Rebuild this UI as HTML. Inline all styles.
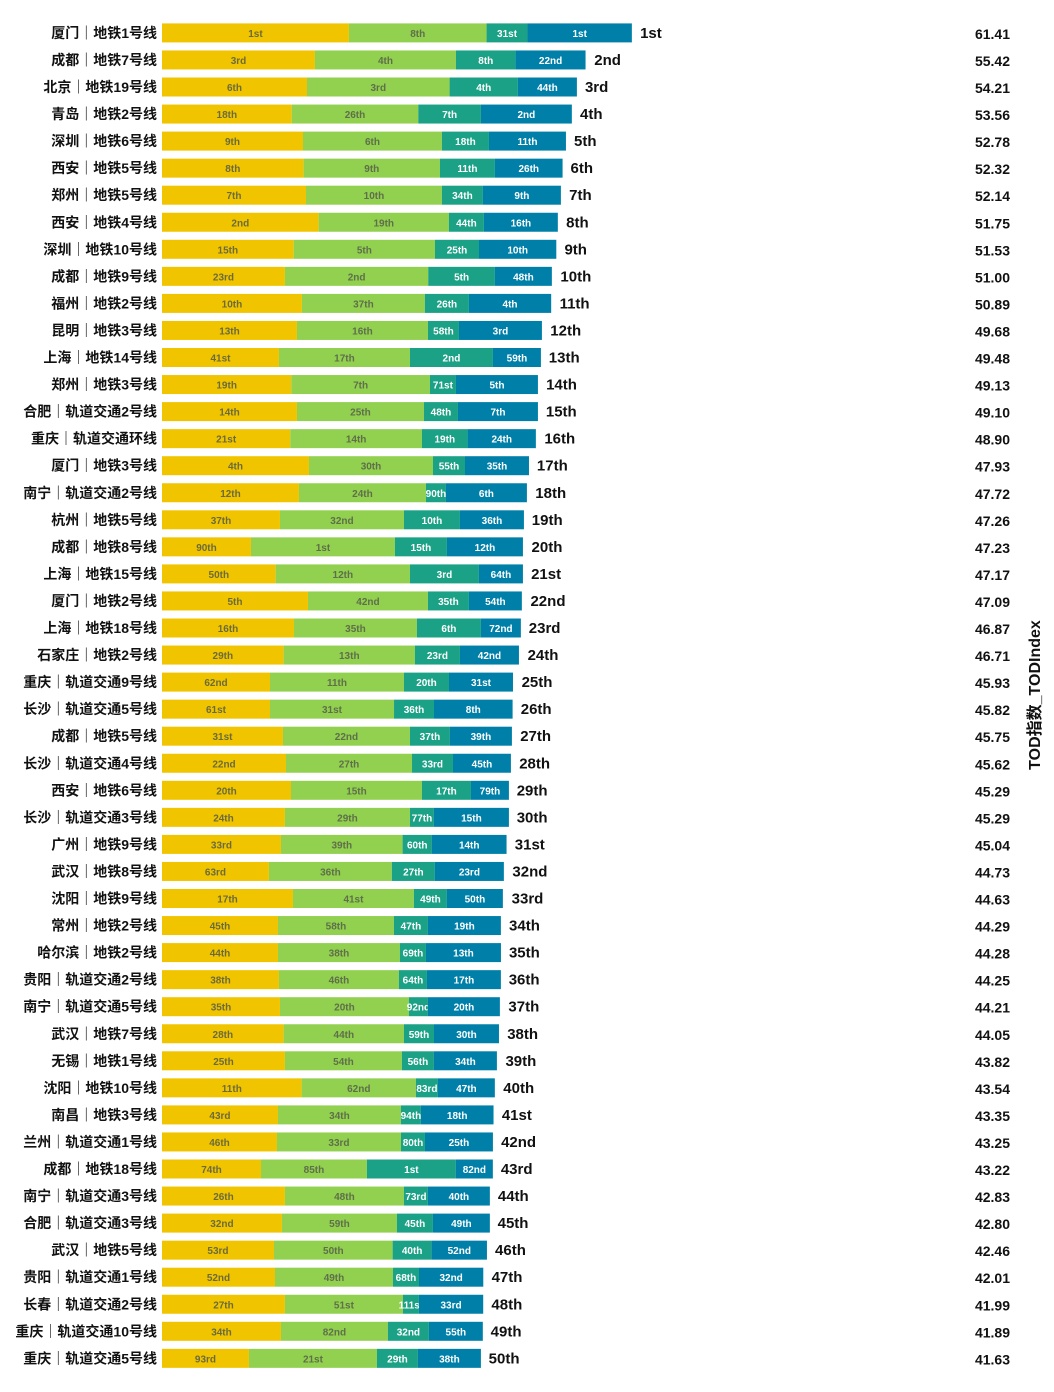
<!DOCTYPE html>
<html><head><meta charset="utf-8">
<style>
html,body{margin:0;padding:0;background:#fff;}
svg{display:block;font-family:"Liberation Sans","Noto Sans CJK SC",sans-serif;}
</style></head>
<body>
<svg id="chart" width="1054" height="1392" viewBox="0 0 1054 1392" xmlns="http://www.w3.org/2000/svg">
<text x="0" y="0" transform="translate(1040,695) rotate(-90)" text-anchor="middle" font-size="16" font-weight="bold" fill="#111">TOD指数_TODIndex</text>
</svg>
<script>
const lines = ["厦门｜地铁1号线","成都｜地铁7号线","北京｜地铁19号线","青岛｜地铁2号线","深圳｜地铁6号线","西安｜地铁5号线","郑州｜地铁5号线","西安｜地铁4号线","深圳｜地铁10号线","成都｜地铁9号线","福州｜地铁2号线","昆明｜地铁3号线","上海｜地铁14号线","郑州｜地铁3号线","合肥｜轨道交通2号线","重庆｜轨道交通环线","厦门｜地铁3号线","南宁｜轨道交通2号线","杭州｜地铁5号线","成都｜地铁8号线","上海｜地铁15号线","厦门｜地铁2号线","上海｜地铁18号线","石家庄｜地铁2号线","重庆｜轨道交通9号线","长沙｜轨道交通5号线","成都｜地铁5号线","长沙｜轨道交通4号线","西安｜地铁6号线","长沙｜轨道交通3号线","广州｜地铁9号线","武汉｜地铁8号线","沈阳｜地铁9号线","常州｜地铁2号线","哈尔滨｜地铁2号线","贵阳｜轨道交通2号线","南宁｜轨道交通5号线","武汉｜地铁7号线","无锡｜地铁1号线","沈阳｜地铁10号线","南昌｜地铁3号线","兰州｜轨道交通1号线","成都｜地铁18号线","南宁｜轨道交通3号线","合肥｜轨道交通3号线","武汉｜地铁5号线","贵阳｜轨道交通1号线","长春｜轨道交通2号线","重庆｜轨道交通10号线","重庆｜轨道交通5号线"];
const totals = [61.41,55.42,54.21,53.56,52.78,52.32,52.14,51.75,51.53,51.00,50.89,49.68,49.48,49.13,49.10,48.90,47.93,47.72,47.26,47.23,47.17,47.09,46.87,46.71,45.93,45.82,45.75,45.62,45.29,45.29,45.04,44.73,44.63,44.29,44.28,44.25,44.21,44.05,43.82,43.54,43.35,43.25,43.22,42.83,42.80,42.46,42.01,41.99,41.89,41.63];
const seg1 = [24.42,19.98,18.94,16.94,18.42,18.50,18.81,20.46,17.20,16.06,18.28,17.63,15.28,16.89,17.63,16.76,19.20,17.89,15.41,11.62,14.85,19.07,17.24,15.89,14.11,14.11,15.80,16.20,16.85,16.06,15.54,13.97,17.11,15.15,15.15,15.28,15.41,15.89,16.06,18.24,15.15,15.02,12.93,16.06,15.67,14.63,14.76,16.06,15.54,11.36];
const seg2 = [17.98,18.42,18.63,16.54,18.15,17.81,17.76,17.02,18.46,18.72,16.06,17.11,17.11,18.11,16.59,17.20,16.20,16.59,16.20,18.81,17.54,15.67,16.06,17.15,17.50,16.20,16.59,16.46,17.11,16.33,15.89,16.06,15.80,15.15,15.93,15.67,16.85,15.72,15.28,14.93,16.06,16.20,13.84,15.54,15.02,15.50,15.41,15.41,13.97,16.72];
const seg3 = [5.35,7.79,8.92,8.18,6.14,7.18,5.35,4.57,5.75,8.71,5.75,4.05,10.84,3.40,4.44,5.96,4.18,2.61,7.31,6.79,9.01,5.35,8.36,5.88,5.88,5.22,5.22,5.35,6.40,3.13,3.83,5.62,4.31,4.44,3.40,3.66,2.48,3.92,4.18,2.87,2.61,3.13,11.62,3.13,4.70,5.09,3.40,2.09,5.35,5.35];
const seg4 = [13.63,9.14,7.71,11.88,10.06,8.84,10.19,9.66,10.10,7.44,10.75,10.84,6.27,10.71,10.45,8.92,8.36,10.58,8.36,9.93,5.75,6.92,5.22,7.71,8.36,10.27,8.10,7.57,4.96,9.80,9.75,9.01,7.31,9.53,9.80,9.66,9.40,8.49,8.23,7.44,9.49,8.88,4.83,8.10,7.44,7.23,8.40,8.40,7.05,8.23];
const rank1 = ["1st","3rd","6th","18th","9th","8th","7th","2nd","15th","23rd","10th","13th","41st","19th","14th","21st","4th","12th","37th","90th","50th","5th","16th","29th","62nd","61st","31st","22nd","20th","24th","33rd","63rd","17th","45th","44th","38th","35th","28th","25th","11th","43rd","46th","74th","26th","32nd","53rd","52nd","27th","34th","93rd"];
const rank2 = ["8th","4th","3rd","26th","6th","9th","10th","19th","5th","2nd","37th","16th","17th","7th","25th","14th","30th","24th","32nd","1st","12th","42nd","35th","13th","11th","31st","22nd","27th","15th","29th","39th","36th","41st","58th","38th","46th","20th","44th","54th","62nd","34th","33rd","85th","48th","59th","50th","49th","51st","82nd","21st"];
const rank3 = ["31st","8th","4th","7th","18th","11th","34th","44th","25th","5th","26th","58th","2nd","71st","48th","19th","55th","90th","10th","15th","3rd","35th","6th","23rd","20th","36th","37th","33rd","17th","77th","60th","27th","49th","47th","69th","64th","92nd","59th","56th","83rd","94th","80th","1st","73rd","45th","40th","68th","111st","32nd","29th"];
const rank4 = ["1st","22nd","44th","2nd","11th","26th","9th","16th","10th","48th","4th","3rd","59th","5th","7th","24th","35th","6th","36th","12th","64th","54th","72nd","42nd","31st","8th","39th","45th","79th","15th","14th","23rd","50th","19th","13th","17th","20th","30th","34th","47th","18th","25th","82nd","40th","49th","52nd","32nd","33rd","55th","38th"];

const X0 = 162, PX = 7.655, Y0 = 32.9, STEP = 27.05, BH = 19;
const xs = v => X0 + v * PX;
const yc = i => Y0 + i * STEP;
const colors = ["#F1C400","#92D050","#1BA185","#0080A9"];
const txtCol = ["#6b6b3a","#5f6f4a","#ffffff","#ffffff"];
function ordinal(n){const s=["th","st","nd","rd"],v=n%100;return n+(s[(v-20)%10]||s[v]||s[0]);}
const NS="http://www.w3.org/2000/svg";
const svg=document.getElementById('chart');
function mk(tag,attrs,text){const e=document.createElementNS(NS,tag);for(const k in attrs)e.setAttribute(k,attrs[k]);if(text!==undefined)e.textContent=text;svg.appendChild(e);return e;}
const segs=[seg1,seg2,seg3,seg4], ranks=[rank1,rank2,rank3,rank4];
const segNames=["seg-a","seg-b","seg-c","seg-d"];
for(let i=0;i<lines.length;i++){
  const y=yc(i);
  const lab=mk('text',{x:157,y:y+5,'text-anchor':'end','font-size':14,'font-weight':'bold',fill:'#111'},lines[i]);
  
  
  let cum=0;
  for(let s=0;s<4;s++){
    const v=segs[s][i];
    const r=mk('rect',{x:xs(cum),y:y-BH/2,width:xs(cum+v)-xs(cum),height:BH,fill:colors[s]});
    
    
    const t=mk('text',{x:(xs(cum)+xs(cum+v))/2,y:y+4,'text-anchor':'middle','font-size':10,'font-weight':'bold',fill:txtCol[s]},ranks[s][i]);
    
    
    cum+=v;
  }
  const tr=mk('text',{x:xs(totals[i])+8,y:y+5,'font-size':15,'font-weight':'bold',fill:'#111'},ordinal(i+1));
  
  
  const tv=mk('text',{x:1010,y:y+6,'text-anchor':'end','font-size':14,'font-weight':'bold',fill:'#111'},totals[i].toFixed(2));
  
  
}
</script>
</body></html>
